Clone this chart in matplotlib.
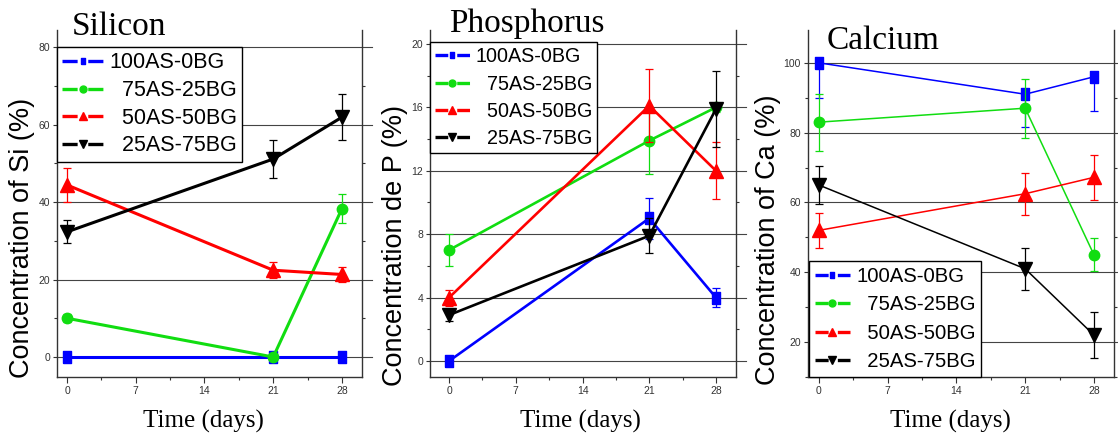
import matplotlib
matplotlib.use('Agg')
import matplotlib.pyplot as plt
from matplotlib.lines import Line2D
from matplotlib.ticker import MultipleLocator

plt.rcParams['lines.scale_dashes'] = False

days = [0, 21, 28]
groups = ['100AS-0BG', '  75AS-25BG', '  50AS-50BG', '  25AS-75BG']
colors = ['#0000ff', '#11dd11', '#ff0000', '#000000']

# Silicon
si_vals = [[0, 0, 0], [10, 0, 38.3], [44.4, 22.4, 21.3], [32.3, 51.1, 61.9]]
si_err = [[0, 0, 0], [1.0, 0, 3.7], [4.4, 2.0, 2.0], [3.0, 5.0, 6.0]]
# Phosphorus
p_vals = [[0, 9.0, 4.0], [7.0, 13.9, 16.0], [4.0, 16.1, 12.0], [2.9, 7.9, 15.9]]
p_err = [[0, 1.3, 0.6], [1.0, 2.1, 0.3], [0.5, 2.3, 1.8], [0.4, 1.1, 2.4]]
# Calcium (blue bars only drawn downwards)
ca_vals = [[100, 91, 96], [83, 87, 45], [52, 62.5, 67.2], [65, 41, 22]]
ca_err_lo = [[10, 9.5, 9.7], [8.2, 8.5, 4.7], [5.1, 6.0, 6.5], [5.4, 6.0, 6.6]]
ca_err_hi = [[0, 0, 0], [8.2, 8.5, 4.7], [5.1, 6.0, 6.5], [5.4, 6.0, 6.6]]

rect = [(-0.32, -0.5), (0.32, -0.5), (0.32, 0.5), (-0.32, 0.5), (-0.32, -0.5)]
markers = [rect, 'o', '^', 'v']
msizes = [8.5, 7.5, 9.5, 9.5]

W, H = 1118, 436
fig = plt.figure(figsize=(W / 100, H / 100), dpi=100)

panels = [
    dict(vals=si_vals, lo=si_err, hi=si_err, x0=57, x1=362, xlim=(-1.02, 30.04),
         ylim=(-5.16, 84.4), major=20, minor=10, lw=2.2, title='Silicon', tpos=(0.049, 0.986),
         ylabel='Concentration of Si (%)', ylpos=(-0.115, 0.40), xlcenter=203,
         leg_loc='upper left', leg_anchor=(0, 0.951), leg_fs=15.5, leg_hl=1.9,
         leg_ls=0.31, leg_bp=0.25),
    dict(vals=p_vals, lo=p_err, hi=p_err, x0=430, x1=736, xlim=(-2.0, 30.1),
         ylim=(-1.01, 20.88), major=4, minor=2, lw=1.9, title='Phosphorus', tpos=(0.062, 0.994),
         ylabel='Concentration de P (%)', ylpos=(-0.114, 0.38), xlcenter=580,
         leg_loc='upper left', leg_anchor=(0, 0.965), leg_fs=14.2, leg_hl=1.75,
         leg_ls=0.42, leg_bp=0.26),
    dict(vals=ca_vals, lo=ca_err_lo, hi=ca_err_hi, x0=808, x1=1114, xlim=(-1.1, 30.04),
         ylim=(10, 109.4), major=20, minor=10, lw=1.1, title='Calcium', tpos=(0.062, 0.945),
         ylabel='Concentration of Ca (%)', ylpos=(-0.13, 0.395), xlcenter=950,
         leg_loc='lower left', leg_anchor=(0.003, 0), leg_fs=14.6, leg_hl=1.75,
         leg_ls=0.47, leg_bp=0.28),
]

bottom_px, top_px = 377, 30
for cfg in panels:
    ax = fig.add_axes([cfg['x0'] / W, (H - bottom_px) / H,
                       (cfg['x1'] - cfg['x0']) / W, (bottom_px - top_px) / H])
    for k in range(4):
        ax.errorbar(days, cfg['vals'][k], yerr=[cfg['lo'][k], cfg['hi'][k]], color=colors[k],
                    lw=cfg['lw'], marker=markers[k], ms=msizes[k], elinewidth=0.9,
                    capsize=3, capthick=0.9, zorder=3 + k)
    ax.set_xlim(*cfg['xlim'])
    ax.set_ylim(*cfg['ylim'])
    ax.xaxis.set_major_locator(MultipleLocator(7))
    ax.xaxis.set_minor_locator(MultipleLocator(3.5))
    ax.yaxis.set_major_locator(MultipleLocator(cfg['major']))
    ax.yaxis.set_minor_locator(MultipleLocator(cfg['minor']))
    ax.spines['top'].set_visible(False)
    for s in ['left', 'right', 'bottom']:
        ax.spines[s].set_color('#333333')
        ax.spines[s].set_linewidth(1.0)
    ax.tick_params(axis='x', which='major', direction='out', length=4.3, width=0.8,
                   labelsize=7.5, labelcolor='#333333', pad=2.5, color='#333333')
    ax.tick_params(axis='x', which='minor', direction='out', length=2.2, width=0.8,
                   color='#333333')
    ax.tick_params(axis='y', which='major', direction='out', length=3, width=0.8,
                   labelsize=7.5, labelcolor='#333333', pad=2, color='#333333')
    ax.tick_params(axis='y', which='minor', direction='out', length=2, width=0.8,
                   right=True, color='#333333')
    for lab in ax.get_xticklabels() + ax.get_yticklabels():
        lab.set_family('Liberation Sans')
    ylo, yhi = cfg['ylim']
    yt = [t for t in ax.get_yticks() if ylo <= t <= yhi]
    for t in yt:
        ax.axhline(t, xmin=0, xmax=1 + 10 / (cfg['x1'] - cfg['x0']), color='#444444',
                   lw=0.8, clip_on=False, zorder=1)

    ax.text(cfg['tpos'][0], cfg['tpos'][1], cfg['title'], transform=ax.transAxes,
            family='Liberation Serif', fontsize=24, ha='left', va='baseline')
    ax.text(cfg['ylpos'][0], cfg['ylpos'][1], cfg['ylabel'], transform=ax.transAxes,
            family='Liberation Sans', fontsize=19.5, rotation=90, ha='center', va='center')
    fig.text(cfg['xlcenter'] / W, (H - 428) / H, 'Time (days)', family='Liberation Serif',
             fontsize=18, ha='center', va='baseline')

    fs = cfg['leg_fs']
    hl_pt = cfg['leg_hl'] * fs
    seg = hl_pt * 0.37
    gap = hl_pt - 2 * seg
    handles = [Line2D([], [], color=colors[k], lw=2.4, marker=markers[k],
                      ms=5 if k < 2 else 6, linestyle=(0, (seg, gap, seg, gap)))
               for k in range(4)]
    leg = ax.legend(handles, groups, loc=cfg['leg_loc'], bbox_to_anchor=cfg['leg_anchor'],
                    frameon=True, fancybox=False, edgecolor='black', framealpha=1,
                    borderaxespad=0, prop={'family': 'Liberation Sans', 'size': fs},
                    handlelength=cfg['leg_hl'], handletextpad=0.3,
                    labelspacing=cfg['leg_ls'], borderpad=cfg['leg_bp'], numpoints=1)
    leg.get_frame().set_linewidth(1.0)
    leg.set_zorder(10)

fig.savefig('out.png', dpi=100)
